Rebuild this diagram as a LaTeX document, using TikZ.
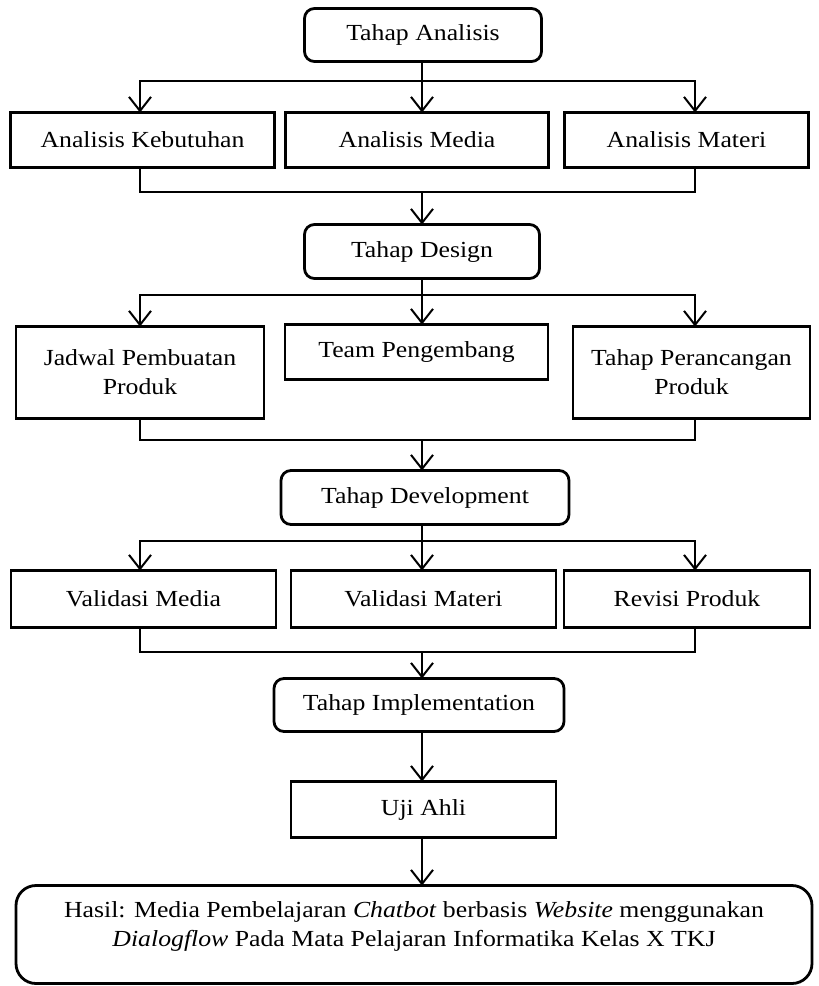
\documentclass[tikz,border=0pt]{standalone}
\usepackage{fontspec}
\setmainfont{Liberation Serif}[FakeStretch=1.12]
\usetikzlibrary{
  arrows.meta,
  positioning,
  calc
}
\tikzset{
  stagebox/.style={
    draw, line width=2.8pt, rounded corners=10pt, minimum height=53pt,
    align=center, inner sep=2pt, outer sep=0pt
  },
  itembox/.style={draw, line width=2.8pt, minimum height=55pt, align=center, inner sep=2pt, outer sep=0pt},
  tallbox/.style={itembox, minimum height=92pt},
  resultbox/.style={stagebox, rounded corners=20pt, minimum height=98pt, text depth=20pt},
  busline/.style={line width=2pt},
  busarrow/.style={busline, -{Straight Barb[length=14pt, width=22pt]}}
}

\begin{document}
\begin{tikzpicture}[x=1pt, y=1pt, font=\fontsize{23}{29}\selectfont]
  \fill[white] (0,0) rectangle (819,-986);
  \useasboundingbox (0,0) rectangle (819,-986);
  \coordinate (spine) at (422,0);
  \coordinate (busL) at (140,0);
  \coordinate (busR) at (695,0);

  % analisis
  \node[stagebox, minimum width=237pt] (ta) at (423,-35) {Tahap Analisis};
  \node[itembox, minimum width=263pt, below=51pt of ta, xshift=-6pt] (am) {Analisis Media};
  \node[itembox, minimum width=264pt, left=11pt of am] (ak) {Analisis Kebutuhan};
  \node[itembox, minimum width=244pt, right=16pt of am] (amat) {Analisis Materi};

  % design
  \node[stagebox, minimum width=235pt, below=57pt of am, xshift=5pt, minimum height=54pt] (td) {Tahap Design};
  \node[itembox, minimum width=263pt, below=46pt of td, xshift=-5.5pt] (tp) {Team Pengembang};
  \node[tallbox, minimum width=248pt, anchor=north east] (jp) at ([xshift=-21pt, yshift=-2pt]tp.north west) {Jadwal Pembuatan\\Produk};
  \node[tallbox, minimum width=237pt, anchor=north west] (tpp) at ([xshift=25pt, yshift=-2pt]tp.north east) {Tahap Perancangan\\Produk};

  % development
  \node[stagebox, minimum width=288pt, minimum height=54pt, below=91pt of tp, xshift=8.5pt] (tdev) {Tahap Development};
  \node[itembox, minimum width=265pt, minimum height=57pt, below=46pt of tdev, xshift=-1.5pt] (vmat) {Validasi Materi};
  \node[itembox, minimum width=265pt, minimum height=57pt, left=15pt of vmat] (vm) {Validasi Media};
  \node[itembox, minimum width=246pt, minimum height=57pt, right=8pt of vmat] (rp) {Revisi Produk};

  % implementation
  \node[stagebox, minimum width=290pt, below=51pt of vmat, xshift=-4.5pt] (timp) {Tahap Implementation};
  \node[itembox, minimum width=265pt, minimum height=56pt, below=50pt of timp, xshift=4.5pt] (uji) {Uji Ahli};
  \node[resultbox, minimum width=796pt, below=48pt of uji, xshift=-9.5pt] (hasil) {Hasil: Media Pembelajaran \textit{Chatbot} berbasis \textit{Website} menggunakan\\\textit{Dialogflow} Pada Mata Pelajaran Informatika Kelas X TKJ};

  % connectors
  \draw[busarrow] (spine |- ta.south) -- (spine |- am.north);
  \path (ta.south) ++(0,-19) coordinate (s1);
  \draw[busarrow] (spine |- s1) -| (busL |- ak.north);
  \draw[busarrow] (spine |- s1) -| (busR |- amat.north);
  \path (ak.south) ++(0,-24) coordinate (j1);
  \draw[busline] (busL |- ak.south) |- (busR |- j1) -- (busR |- amat.south);
  \draw[busarrow] (spine |- j1) -- (spine |- td.north);

  \draw[busarrow] (spine |- td.south) -- (spine |- tp.north);
  \path (td.south) ++(0,-16) coordinate (s2);
  \draw[busarrow] (spine |- s2) -| (busL |- jp.north);
  \draw[busarrow] (spine |- s2) -| (busR |- tpp.north);
  \path (jp.south) ++(0,-21) coordinate (j2);
  \draw[busline] (busL |- jp.south) |- (busR |- j2) -- (busR |- tpp.south);
  \draw[busarrow] (spine |- j2) -- (spine |- tdev.north);

  \draw[busarrow] (spine |- tdev.south) -- (spine |- vmat.north);
  \path (tdev.south) ++(0,-16) coordinate (s3);
  \draw[busarrow] (spine |- s3) -| (busL |- vm.north);
  \draw[busarrow] (spine |- s3) -| (busR |- rp.north);
  \path (vm.south) ++(0,-24) coordinate (j3);
  \draw[busline] (busL |- vm.south) |- (busR |- j3) -- (busR |- rp.south);
  \draw[busarrow] (spine |- j3) -- (spine |- timp.north);

  \draw[busarrow] (spine |- timp.south) -- (spine |- uji.north);
  \draw[busarrow] (spine |- uji.south) -- (spine |- hasil.north);
\end{tikzpicture}
\end{document}
